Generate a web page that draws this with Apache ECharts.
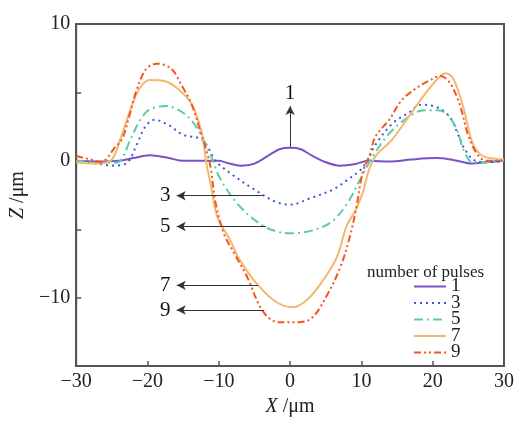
<!DOCTYPE html>
<html><head><meta charset="utf-8">
<script src="https://cdn.jsdelivr.net/npm/echarts@6/dist/echarts.min.js"></script>
<style>html,body{margin:0;padding:0;background:#fff}#c{width:517px;height:422px}</style>
</head><body><div id="c"></div>
<script>
const seriesNames = ['1','3','5','7','9'];
const xTicks = [-30,-20,-10,0,10,20,30];
const yTickLabels = [10,0,-10];
const p1 = [[-30,0],[-27,-0.05],[-24,0],[-22,0.2],[-19.7,0.4],[-17,0.2],[-15,0],[-10,0],[-8.5,-0.2],[-7,-0.35],[-5,-0.2],[-3,0.4],[-1.5,0.85],[0,0.95],[1.5,0.85],[3,0.4],[5,-0.1],[7,-0.35],[9,-0.25],[11,0],[14,-0.05],[17,0.1],[20.5,0.2],[23,0.05],[25.6,-0.2],[27.5,-0.1],[30,0]];
const p3 = [[-30,-0.1],[-27,-0.2],[-25,-0.35],[-23,-0.2],[-21.5,1.2],[-20.3,2.5],[-19,3.0],[-17,2.6],[-15,1.9],[-12.5,1.6],[-11.3,0.8],[-10.5,0],[-8,-1.05],[-5,-2.1],[-2,-3.0],[0,-3.2],[3,-2.7],[6,-2.1],[8,-1.4],[10,-0.6],[11,0.2],[12,1.2],[14.3,2.7],[16.6,3.5],[18.4,4.1],[20.7,3.9],[22.4,3.2],[23.5,2.0],[24.5,0.85],[26,0],[28,-0.1],[30,0]];
const p5 = [[-30,0],[-27,-0.1],[-25,-0.15],[-23.8,0],[-22.4,1.55],[-21,3.0],[-19.7,3.75],[-17.4,4.0],[-15.6,3.7],[-13.9,3.0],[-12.5,1.9],[-11.2,0.5],[-9.8,-1.3],[-7.1,-3.3],[-3.8,-4.75],[-1.6,-5.2],[0.2,-5.3],[3,-5.1],[5.7,-4.5],[7.9,-3.2],[9.8,-1.4],[11.2,0],[11.6,0.35],[13.9,2.0],[16.6,3.2],[18.8,3.7],[20.7,3.7],[22,3.4],[23.4,2.3],[24.3,0.85],[25.6,-0.1],[27,-0.1],[30,0]];
const p7 = [[-30,-0.1],[-27.5,-0.2],[-25.2,0],[-23.8,1.6],[-22.4,3.75],[-21.1,5.3],[-19.7,5.9],[-17.4,5.8],[-15.6,5.2],[-13.9,4.25],[-12.9,3.0],[-12.2,1.6],[-11.8,0],[-11.1,-1.8],[-10.2,-4.1],[-8.4,-5.8],[-7.1,-7.2],[-4.8,-8.9],[-2,-10.3],[0.4,-10.7],[2.5,-10.1],[4.8,-8.6],[6.6,-7.0],[7.9,-4.8],[9.3,-3.5],[10.2,-2.3],[11.1,-0.6],[12,0.35],[14.3,1.55],[16.6,3.2],[18.8,4.8],[20.7,6.0],[21.8,6.4],[22.9,6.0],[24.3,3.9],[25.6,1.3],[27,0.35],[28.8,0.15],[30,0.1]];
const p9 = [[-30,0.35],[-28,0.1],[-26.5,-0.1],[-25.5,0.3],[-24.7,0.9],[-23.6,1.55],[-22.7,3.0],[-21.5,5.2],[-20.2,6.7],[-18.6,7.1],[-16.6,6.7],[-15.2,5.5],[-13.9,4.25],[-12.7,2.35],[-11.6,0.5],[-11.1,-0.6],[-10.5,-2.95],[-9.3,-5.3],[-7.9,-6.7],[-6.1,-8.4],[-3.8,-11.0],[-1.6,-11.8],[0.7,-11.8],[3,-11.5],[5.2,-9.8],[7.1,-7.7],[8.4,-5.5],[9.3,-3.4],[10.2,-0.8],[11.1,0.35],[12,1.8],[13.9,3.0],[15.6,4.4],[17.4,5.2],[19.3,5.8],[21.1,6.2],[22.4,5.7],[23.8,4.1],[24.9,2.0],[26.1,0.6],[27.5,0],[29.7,0],[30,0]];
const seriesData = [p1,p3,p5,p7,p9];
// annotation arrows: [startX, startY, endX, endY]
const arrows = [[0,1.0,0,4.0],[-3.8,-2.55,-15.9,-2.55],[-3.4,-4.8,-15.9,-4.8],[-4.5,-9.1,-15.9,-9.1],[-3.7,-10.9,-15.9,-10.9]];
// annotation labels: [text, x, y]
const annoLabels = [['1',0,4.9],['3',-17.5,-2.55],['5',-17.5,-4.8],['7',-17.5,-9.1],['9',-17.5,-10.9]];

const FONT = 'Liberation Serif';
const colors = ['#7b52c4','#3a5ad6','#5ecba8','#f3b86e','#f4561f'];
const dashes = ['solid',[2,4],[9,4,2,4],'solid',[7,3,2,3,2,3]];
const fmt = v => String(v).replace('-', '\u2212');

const series = seriesData.map((d,i)=>({
  name: seriesNames[i], type:'line', data:d, smooth:0.35, symbol:'none',
  lineStyle:{color:colors[i], width:2, type:dashes[i]}, itemStyle:{color:colors[i]},
  z: 3
}));
series.push({
  type:'line', data:[], symbol:'none', silent:true,
  markLine:{
    silent:true, animation:false, symbol:['none','arrow'], symbolSize:[7,9],
    lineStyle:{color:'#333', width:1, type:'solid'},
    label:{show:false},
    data: arrows.map(a=>[{coord:[a[0],a[1]]},{coord:[a[2],a[3]]}])
  }
});
series.push({
  type:'line', data:[], symbol:'none', silent:true,
  markPoint:{
    silent:true, animation:false, symbol:'circle', symbolSize:0,
    itemStyle:{color:'rgba(0,0,0,0)'},
    label:{show:true, position:'inside', formatter:'{b}', fontFamily:FONT, fontSize:21, color:'#111', opacity:1},
    data: annoLabels.map(a=>({name:a[0], coord:[a[1],a[2]]}))
  }
});

const chart = echarts.init(document.getElementById('c'), null, {renderer:'canvas'});
chart.setOption({
  animation:false,
  backgroundColor:'#fff',
  grid:{left:65, right:11, top:24, bottom:45, show:true, borderColor:'#555', borderWidth:2},
  title:{text:'number of pulses', left:362, top:259, textStyle:{fontFamily:FONT, fontSize:17, fontWeight:'normal', color:'#222'}},
  legend:{orient:'vertical', left:408, top:272, itemWidth:32, itemHeight:10, itemGap:-2.5,
    data:seriesNames, itemStyle:{opacity:0},
    textStyle:{fontFamily:FONT, fontSize:19, color:'#222'}},
  xAxis:{type:'value', min:-30, max:30, interval:10,
    name:'{i|X} /μm', nameLocation:'middle', nameGap:16,
    nameTextStyle:{fontFamily:FONT, fontSize:20, color:'#222', rich:{i:{fontFamily:FONT, fontStyle:'italic', fontSize:20, color:'#222'}}},
    axisLine:{onZero:false, lineStyle:{color:'#555', width:2}},
    axisTick:{inside:true, length:5, lineStyle:{color:'#555', width:1.5}},
    axisLabel:{fontFamily:FONT, fontSize:20, color:'#222', margin:6, formatter:v=>xTicks.includes(v)?fmt(v):''},
    splitLine:{show:false}},
  yAxis:{type:'value', min:-15, max:10, interval:5,
    name:'{i|Z} /μm', nameLocation:'middle', nameGap:35,
    nameTextStyle:{fontFamily:FONT, fontSize:20, color:'#222', rich:{i:{fontFamily:FONT, fontStyle:'italic', fontSize:20, color:'#222'}}},
    axisLine:{onZero:false, lineStyle:{color:'#555', width:2}},
    axisTick:{inside:true, length:5, lineStyle:{color:'#555', width:1.5}},
    axisLabel:{fontFamily:FONT, fontSize:20, color:'#222', margin:6, formatter:v=>yTickLabels.includes(v)?fmt(v):''},
    splitLine:{show:false}},
  series: series
});
</script></body></html>
